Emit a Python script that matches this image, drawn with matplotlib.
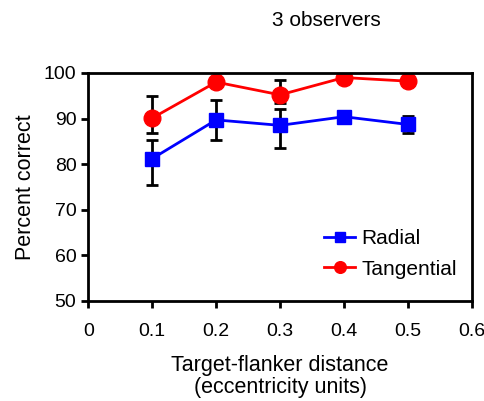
import matplotlib.pyplot as plt
import numpy as np

plt.rcParams['font.family'] = ['Liberation Sans', 'DejaVu Sans']

# 数据
dist = [0.1, 0.2, 0.3, 0.4, 0.5]
radial = [81.2, 89.7, 88.5, 90.4, 88.7]
radial_lo = [5.7, 4.4, 4.9, 0.0, 1.9]
radial_hi = [4.1, 4.4, 3.5, 0.0, 1.9]
tangential = [90.1, 98.0, 95.2, 99.0, 98.2]
tangential_lo = [3.2, 0.0, 1.8, 0.0, 0.0]
tangential_hi = [4.9, 0.0, 3.3, 0.0, 0.0]

fig, ax = plt.subplots(figsize=(4.85, 4.01), dpi=100)
fig.subplots_adjust(left=0.182, right=0.973, top=0.818, bottom=0.25)

# 误差线
ax.errorbar(dist, radial, yerr=[radial_lo, radial_hi], fmt='none', ecolor='k',
            elinewidth=2, capsize=4, capthick=2, zorder=1)
ax.errorbar(dist, tangential, yerr=[tangential_lo, tangential_hi], fmt='none',
            ecolor='k', elinewidth=2, capsize=4, capthick=2, zorder=1)

# 曲线
ax.plot(dist, radial, color='b', marker='s', markersize=10, linewidth=2,
        label='Radial', zorder=3)
ax.plot(dist, tangential, color='r', marker='o', markersize=12, linewidth=2,
        label='Tangential', zorder=2)

ax.set_xlim(0, 0.6)
ax.set_ylim(50, 100)
ax.set_xticks(np.arange(0, 0.61, 0.1))
ax.set_xticklabels(['0', '0.1', '0.2', '0.3', '0.4', '0.5', '0.6'])
ax.set_yticks(range(50, 101, 10))
ax.tick_params(direction='out', length=5, width=2, labelsize=14)
ax.tick_params(axis='x', pad=11)
for s in ax.spines.values():
    s.set_linewidth(2)

ax.set_xlabel('Target-flanker distance\n(eccentricity units)', fontsize=15.5,
              labelpad=11, linespacing=1.05)
ax.set_ylabel('Percent correct', fontsize=15.5, labelpad=6)
ax.text(0.373, 111.5, '3 observers', fontsize=15, ha='center', va='center')

ax.legend(loc='lower right', bbox_to_anchor=(1.01, 0.015), frameon=False,
          fontsize=15, handlelength=1.5, handletextpad=0.3, labelspacing=0.55,
          markerscale=0.7)

plt.savefig('out.png', dpi=100)
